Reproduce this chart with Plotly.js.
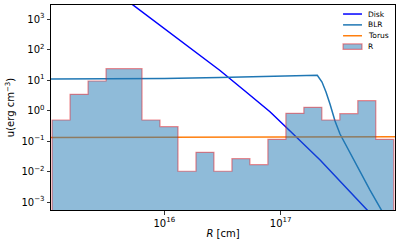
<!DOCTYPE html>
<html>
<head>
<meta charset="utf-8">
<script src="https://cdn.plot.ly/plotly-3.0.1.min.js"></script>
<style>
  html, body { margin: 0; padding: 0; background: #fff; }
  #chart { width: 399px; height: 243px; }
</style>
</head>
<body>
<div id="chart"></div>
<script>
// ---- data ----
const diskR = [4.17e15, 9.18e15, 2.03e16, 3.01e16, 4.93e16, 8.09e16, 1.32e17, 2.18e17, 3.57e17, 5.85e17];
const diskU = [6000, 621, 64.1, 20.5, 4.36, 0.914, 0.151, 0.0238, 0.00322, 0.000436];

const blrR = [1.0e15, 1.0e16, 3.0e16, 1.0e17, 2.063e17, 2.264e17, 2.45e17, 2.651e17, 2.928e17, 3.233e17, 3.568e17, 3.939e17, 4.8e17, 5.851e17, 7.274e17, 8.69e17];
const blrU = [10.8, 11.1, 12.0, 13.3, 14.26, 8.59, 4.05, 1.633, 0.453, 0.170, 0.0828, 0.0405, 0.01, 0.00247, 0.000577, 0.000163];

const torusR = [1.0e15, 1.0e16, 1.0e17, 1.0e18];
const torusU = [0.13, 0.13, 0.132, 0.137];

const binEdges = [1.086e15, 1.550e15, 2.213e15, 3.159e15, 4.508e15, 6.435e15, 9.183e15, 1.311e16, 1.871e16, 2.670e16,
                  3.811e16, 5.439e16, 7.762e16, 1.108e17, 1.581e17, 2.257e17, 3.221e17, 4.597e17, 6.561e17, 9.365e17];
const histU = [0.488, 3.40, 9.27, 23.5, 23.5, 0.488, 0.294, 0.0102, 0.0426, 0.0102,
               0.0263, 0.0167, 0.1137, 0.81, 1.27, 0.488, 0.786, 2.10, 0.1137];

const seriesNames = ['Disk', 'BLR', 'Torus', 'R'];
const xTickVals = [1e16, 1e17];
const xTickText = ['10<sup>16</sup>', '10<sup>17</sup>'];
const yTickVals = [1e-3, 1e-2, 1e-1, 1e0, 1e1, 1e2, 1e3];
const yTickText = ['10<sup>\u22123</sup>', '10<sup>\u22122</sup>', '10<sup>\u22121</sup>', '10<sup>0</sup>', '10<sup>1</sup>', '10<sup>2</sup>', '10<sup>3</sup>'];

// ---- styles ----
const colDisk = '#0000ff', colBLR = '#1f77b4', colTorus = '#ff7f0e';
const histFill = 'rgba(31,119,180,0.5)', histEdge = 'rgba(225,30,40,0.5)';
const font = 'DejaVu Sans';

// ---- step outline of the histogram (stepfilled) ----
const histBase = 1e-8;
const hx = [binEdges[0]], hy = [histBase];
for (let i = 0; i < histU.length; i++) {
  hx.push(binEdges[i], binEdges[i + 1]);
  hy.push(histU[i], histU[i]);
}
hx.push(binEdges[binEdges.length - 1]);
hy.push(histBase);

const traces = [
  { x: diskR, y: diskU, name: seriesNames[0], mode: 'lines', line: { color: colDisk, width: 1.5 } },
  { x: blrR, y: blrU, name: seriesNames[1], mode: 'lines', line: { color: colBLR, width: 1.5 } },
  { x: torusR, y: torusU, name: seriesNames[2], mode: 'lines', line: { color: colTorus, width: 1.5 } },
  { x: hx, y: hy, name: seriesNames[3], mode: 'lines', fill: 'toself', fillcolor: histFill,
    line: { color: histEdge, width: 1.2 } }
];

// ---- compact legend (matplotlib-like spacing) ----
const legX0 = 0.849, legX1 = 0.904, legTextX = 0.917;
const legY = [0.956, 0.903, 0.850, 0.797];
const legColors = [colDisk, colBLR, colTorus];
const shapes = [];
const annotations = [];
for (let i = 0; i < 3; i++) {
  shapes.push({ type: 'line', xref: 'paper', yref: 'paper', x0: legX0, x1: legX1, y0: legY[i], y1: legY[i],
                line: { color: legColors[i], width: 1.5 } });
}
shapes.push({ type: 'rect', xref: 'paper', yref: 'paper', x0: legX0, x1: legX1, y0: legY[3] - 0.013, y1: legY[3] + 0.013,
              fillcolor: histFill, line: { color: histEdge, width: 1.2 } });
for (let i = 0; i < 4; i++) {
  annotations.push({ text: seriesNames[i], xref: 'paper', yref: 'paper', x: legTextX, y: legY[i],
                     xanchor: 'left', yanchor: 'middle', showarrow: false,
                     font: { family: font, size: 7.5, color: '#000' } });
}

const axisCommon = {
  type: 'log', showgrid: false, zeroline: false, showline: true, mirror: true,
  linecolor: '#000', linewidth: 1, ticks: 'outside', ticklen: 3.5, tickwidth: 0.8, tickcolor: '#000',
  tickfont: { family: font, size: 10, color: '#000' }
};

const layout = {
  width: 399, height: 243,
  margin: { l: 51, r: 4, t: 5, b: 33 },
  paper_bgcolor: '#fff', plot_bgcolor: '#fff',
  showlegend: false,
  shapes: shapes,
  annotations: annotations,
  xaxis: Object.assign({}, axisCommon, {
    range: [15.0266, 17.982], tickvals: xTickVals, ticktext: xTickText,
    title: { text: '<i>R</i> [cm]', font: { family: font, size: 10, color: '#000' }, standoff: 2 }
  }),
  yaxis: Object.assign({}, axisCommon, {
    range: [-3.262, 3.459], tickvals: yTickVals, ticktext: yTickText,
    title: { text: 'u(erg cm<sup>\u22123</sup>)', font: { family: font, size: 10, color: '#000' }, standoff: 4 }
  })
};

Plotly.newPlot('chart', traces, layout, { displayModeBar: false, staticPlot: true });
</script>
</body>
</html>
